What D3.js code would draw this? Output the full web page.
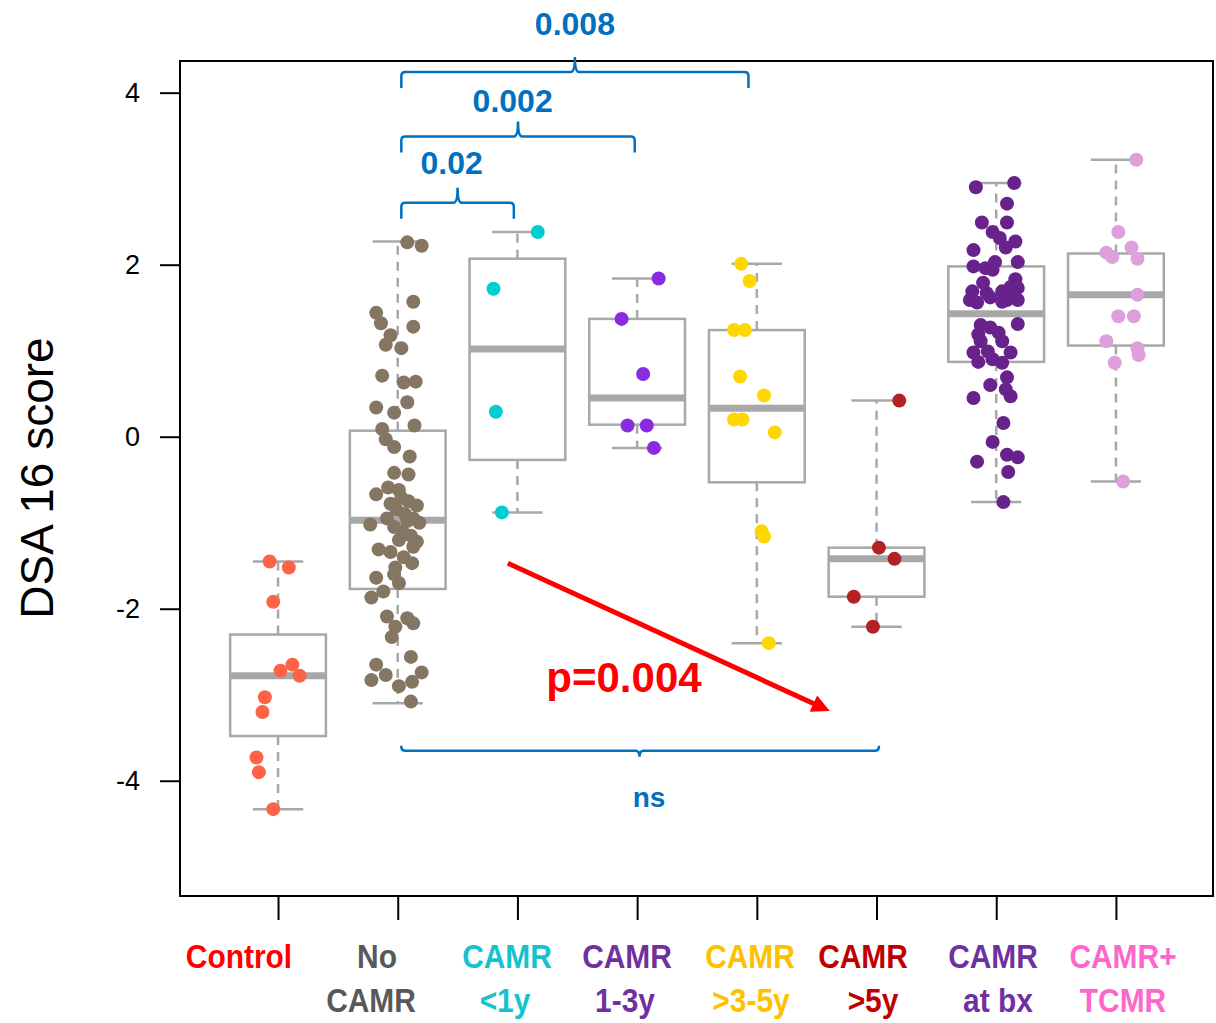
<!DOCTYPE html>
<html>
<head>
<meta charset="utf-8">
<script src="https://cdn.jsdelivr.net/npm/d3@7"></script>
<style>
  body { margin: 0; background: #ffffff; }
  svg { display: block; }
</style>
</head>
<body>
<svg id="chart" width="1216" height="1023"></svg>
<script>
// groups, in plotting order
const categories = ["Control", "No CAMR", "CAMR <1y", "CAMR 1-3y", "CAMR >3-5y", "CAMR >5y", "CAMR at bx", "CAMR+ TCMR"];
const labelTop    = ["Control", "No", "CAMR", "CAMR", "CAMR", "CAMR", "CAMR", "CAMR+"];
const labelBottom = ["", "CAMR", "<1y", "1-3y", ">3-5y", ">5y", "at bx", "TCMR"];
const labelColors = ["#ff0000", "#595959", "#15c3cf", "#7030a0", "#ffc000", "#c00000", "#7030a0", "#ff66cc"];
const pointColors = ["#ff6347", "#857664", "#00ced1", "#8a2be2", "#ffd700", "#b22222", "#68228b", "#dda0dd"];

// box statistics
const whiskerLow  = [-4.33, -3.10, -0.88, -0.13, -2.40, -2.21, -0.76, -0.52];
const q1Values    = [-3.48, -1.77, -0.27,  0.14, -0.53, -1.86,  0.87,  1.06];
const medians     = [-2.78, -0.97,  1.02,  0.45,  0.33, -1.42,  1.43,  1.65];
const q3Values    = [-2.30,  0.07,  2.07,  1.37,  1.24, -1.29,  1.98,  2.13];
const whiskerHigh = [-1.45,  2.27,  2.38,  1.84,  2.01,  0.42,  2.95,  3.22];

// individual scores (with the strip-chart jitter, in category units)
const controlScores = [-1.45, -1.52, -1.92, -2.72, -2.65, -2.78, -3.03, -3.20, -3.73, -3.90, -4.33];
const controlJitter = [-0.07, 0.09, -0.04, 0.02, 0.12, 0.18, -0.11, -0.13, -0.18, -0.16, -0.04];

const noCamrScores = [2.26, 2.22, 1.57, 1.44, 1.32, 1.28, 1.18, 1.07, 1.03, 0.71, 0.63, 0.64, 0.34, 0.28, 0.40,
  0.13, 0.09, -0.03, -0.12, -0.23, -0.42, -0.44, -0.67, -0.59, -0.71, -1.02, -0.62, -0.75, -0.80, -0.85,
  -0.90, -0.95, -1.00, -1.05, -1.10, -1.15, -1.20, -1.22, -0.98, -1.31, -1.34, -1.28, -1.47, -1.52, -1.64,
  -1.70, -1.87, -1.80, -2.09, -2.11, -2.21, -2.17, -2.33, -2.56, -2.65, -2.77, -2.83, -2.90, -2.85, -2.74,
  -3.08, -1.60, -1.40, -0.95, -0.78];
const noCamrJitter = [0.08, 0.20, 0.13, -0.18, -0.14, 0.13, -0.06, -0.10, 0.03, -0.13, 0.05, 0.15, -0.18, -0.03, 0.08,
  0.14, -0.13, -0.10, -0.03, 0.10, -0.03, 0.09, -0.18, -0.08, 0.03, -0.23, 0.01, 0.09, 0.16, -0.01,
  0.06, 0.13, 0.18, -0.03, 0.04, 0.11, 0.01, 0.16, 0.08, -0.16, -0.06, 0.13, 0.12, -0.02, -0.18,
  0.01, -0.22, -0.12, -0.09, 0.08, -0.02, 0.13, -0.05, 0.11, -0.18, -0.10, -0.22, 0.01, 0.12, 0.20,
  0.11, -0.03, 0.05, -0.09, -0.06];

const camrLt1Scores = [2.38, 1.72, 0.29, -0.88];
const camrLt1Jitter = [0.17, -0.20, -0.18, -0.13];

const camr13Scores = [1.84, 1.37, 0.73, 0.13, 0.13, -0.13];
const camr13Jitter = [0.18, -0.13, 0.05, -0.08, 0.08, 0.14];

const camr35Scores = [2.01, 1.81, 1.24, 1.24, 0.70, 0.48, 0.20, 0.20, 0.05, -1.10, -1.16, -2.40];
const camr35Jitter = [-0.13, -0.06, -0.19, -0.10, -0.14, 0.06, -0.19, -0.12, 0.15, 0.04, 0.06, 0.10];

const camrGt5Scores = [0.42, -1.29, -1.42, -1.86, -2.21];
const camrGt5Jitter = [0.19, 0.02, 0.15, -0.19, -0.03];

const camrBxScores = [2.90, 2.95, 2.71, 2.49, 2.49, 2.38, 2.31, 2.27, 2.20, 2.17, 2.03, 2.03, 1.98, 1.96, 1.94,
  1.83, 1.79, 1.74, 1.73, 1.69, 1.67, 1.69, 1.65, 1.59, 1.62, 1.59, 1.59, 1.56, 1.57, 1.31,
  1.30, 1.27, 1.21, 1.19, 1.11, 1.11, 0.98, 0.99, 0.98, 0.87, 0.90, 0.86, 0.69, 0.60, 0.45,
  0.47, 0.55, 0.16, -0.06, -0.29, -0.21, -0.24, -0.41, -0.76];
const camrBxJitter = [-0.17, 0.15, 0.09, -0.12, 0.09, -0.03, 0.03, 0.16, 0.08, -0.19, 0.18, -0.01, -0.19, -0.09, -0.03,
  0.16, -0.11, 0.12, 0.18, -0.20, -0.08, 0.05, 0.14, -0.22, -0.05, 0.09, 0.18, -0.16, 0.05, 0.18,
  -0.13, -0.05, 0.02, -0.15, -0.13, 0.05, -0.19, -0.07, 0.12, -0.15, -0.03, 0.05, 0.09, -0.05, -0.19,
  0.12, 0.08, 0.06, -0.03, -0.16, 0.09, 0.18, 0.10, 0.06];

const camrTcmrScores = [3.22, 2.38, 2.14, 2.09, 2.20, 2.07, 1.65, 1.40, 1.40, 1.11, 1.03, 0.95, 0.86, -0.52];
const camrTcmrJitter = [0.17, 0.02, -0.08, -0.03, 0.13, 0.18, 0.18, 0.02, 0.15, -0.08, 0.18, 0.19, -0.01, 0.06];

const groupScores = [controlScores, noCamrScores, camrLt1Scores, camr13Scores, camr35Scores, camrGt5Scores, camrBxScores, camrTcmrScores];
const groupJitter = [controlJitter, noCamrJitter, camrLt1Jitter, camr13Jitter, camr35Jitter, camrGt5Jitter, camrBxJitter, camrTcmrJitter];

// comparisons drawn above the boxes
const bracketLabels = ["0.02", "0.002", "0.008"];
const bracketFrom   = [2.03, 2.03, 2.03];
const bracketTo     = [2.97, 3.98, 4.93];
const bracketLevel  = [2.72, 3.49, 4.24];
const bracketTextX  = [2.45, 2.96, 3.48];
const bracketTextY  = [3.05, 3.78, 4.67];

const yTicks = [-4, -2, 0, 2, 4];

const drawChart = () => {
  let svg = d3.select("#chart");

  let x = d3.scaleLinear().domain([0.181, 8.811]).range([180, 1213]);
  let y = d3.scaleLinear().domain([-5.34, 4.38]).range([896, 60]);

  const boxGrey = "#a8a8a8";
  const blue = "#0070c0";

  let rows = categories.map((c, i) => ({
    pos: i + 1, lo: whiskerLow[i], q1: q1Values[i], med: medians[i], q3: q3Values[i], hi: whiskerHigh[i]
  }));

  // boxes
  let g = svg.append("g");
  rows.forEach(d => {
    g.append("line")
      .attr("x1", x(d.pos)).attr("x2", x(d.pos))
      .attr("y1", y(d.q3)).attr("y2", y(d.hi))
      .attr("stroke", boxGrey).attr("stroke-width", 2.5).attr("stroke-dasharray", "9,7");
    g.append("line")
      .attr("x1", x(d.pos)).attr("x2", x(d.pos))
      .attr("y1", y(d.q1)).attr("y2", y(d.lo))
      .attr("stroke", boxGrey).attr("stroke-width", 2.5).attr("stroke-dasharray", "9,7");
    [d.lo, d.hi].forEach(v => {
      g.append("line")
        .attr("x1", x(d.pos - 0.21)).attr("x2", x(d.pos + 0.21))
        .attr("y1", y(v)).attr("y2", y(v))
        .attr("stroke", boxGrey).attr("stroke-width", 2.5);
    });
    g.append("rect")
      .attr("x", x(d.pos - 0.4)).attr("width", x(d.pos + 0.4) - x(d.pos - 0.4))
      .attr("y", y(d.q3)).attr("height", y(d.q1) - y(d.q3))
      .attr("fill", "#ffffff").attr("stroke", boxGrey).attr("stroke-width", 2.5);
    g.append("line")
      .attr("x1", x(d.pos - 0.4)).attr("x2", x(d.pos + 0.4))
      .attr("y1", y(d.med)).attr("y2", y(d.med))
      .attr("stroke", boxGrey).attr("stroke-width", 7);
  });

  // points
  groupScores.forEach((scores, i) => {
    svg.append("g").selectAll("circle")
      .data(scores.map((v, k) => ({ pos: i + 1 + groupJitter[i][k], v: v })))
      .enter().append("circle")
      .attr("cx", d => x(d.pos))
      .attr("cy", d => y(d.v))
      .attr("r", 7)
      .attr("fill", pointColors[i]);
  });

  // frame + axes
  svg.append("rect")
    .attr("x", 180).attr("y", 61).attr("width", 1033).attr("height", 835)
    .attr("fill", "none").attr("stroke", "#000").attr("stroke-width", 2);

  let yAxis = svg.append("g")
    .attr("transform", "translate(180,0)")
    .call(d3.axisLeft(y).tickValues(yTicks).tickSize(20).tickPadding(20).tickFormat(d => String(d)));
  yAxis.select(".domain").remove();
  yAxis.selectAll("line").attr("stroke", "#000").attr("stroke-width", 2);
  yAxis.selectAll("text")
    .attr("font-family", "'Liberation Sans', Arial, sans-serif")
    .attr("font-size", 27).attr("fill", "#000");

  let xAxis = svg.append("g")
    .attr("transform", "translate(0,896)")
    .call(d3.axisBottom(x).tickValues(d3.range(1, 9)).tickSize(24).tickFormat(""));
  xAxis.select(".domain").remove();
  xAxis.selectAll("line").attr("stroke", "#000").attr("stroke-width", 2);

  // category labels (condensed, like the original's Calibri)
  const labelX1 = [239, 377, 507, 627, 750, 863, 993, 1123];
  const labelX2 = [239, 371, 505, 625, 751, 873, 998, 1123];
  let labels = svg.append("g")
    .attr("font-family", "'Liberation Sans', Arial, sans-serif")
    .attr("font-weight", "bold").attr("font-size", 34).attr("text-anchor", "middle");
  categories.forEach((c, i) => {
    labels.append("text")
      .attr("transform", "translate(" + labelX1[i] + ",968) scale(0.88,1)")
      .attr("fill", labelColors[i]).text(labelTop[i]);
    labels.append("text")
      .attr("transform", "translate(" + labelX2[i] + ",1012) scale(0.88,1)")
      .attr("fill", labelColors[i]).text(labelBottom[i]);
  });

  svg.append("text")
    .attr("transform", "translate(53,478) rotate(-90)")
    .attr("text-anchor", "middle")
    .attr("font-family", "'Liberation Sans', Arial, sans-serif")
    .attr("font-size", 46).attr("fill", "#000")
    .text("DSA 16 score");

  // significance brackets
  const bracket = (x1, x2, xm, yl, endDy, tipDy) => {
    let r = 4;
    let s = Math.sign(endDy);
    return "M" + x1 + "," + (yl + endDy)
      + "L" + x1 + "," + (yl + s * r)
      + "Q" + x1 + "," + yl + " " + (x1 + r) + "," + yl
      + "L" + (xm - r) + "," + yl
      + "Q" + xm + "," + yl + " " + xm + "," + (yl + tipDy)
      + "Q" + xm + "," + yl + " " + (xm + r) + "," + yl
      + "L" + (x2 - r) + "," + yl
      + "Q" + x2 + "," + yl + " " + x2 + "," + (yl + s * r)
      + "L" + x2 + "," + (yl + endDy);
  };

  let ann = svg.append("g");
  bracketLabels.forEach((lab, i) => {
    let x1 = x(bracketFrom[i]), x2 = x(bracketTo[i]);
    ann.append("path")
      .attr("d", bracket(x1, x2, (x1 + x2) / 2, y(bracketLevel[i]), 16, -15))
      .attr("fill", "none").attr("stroke", blue).attr("stroke-width", 2.5);
    ann.append("text")
      .attr("x", x(bracketTextX[i])).attr("y", y(bracketTextY[i]))
      .attr("text-anchor", "middle")
      .attr("font-family", "'Liberation Sans', Arial, sans-serif")
      .attr("font-weight", "bold").attr("font-size", 32).attr("fill", blue)
      .text(lab);
  });

  let nsFrom = x(2.03), nsTo = x(6.02);
  ann.append("path")
    .attr("d", bracket(nsFrom, nsTo, x(4.02), y(-3.65), -5, 6))
    .attr("fill", "none").attr("stroke", blue).attr("stroke-width", 2.5);
  ann.append("text")
    .attr("x", x(4.1)).attr("y", y(-4.3))
    .attr("text-anchor", "middle")
    .attr("font-family", "'Liberation Sans', Arial, sans-serif")
    .attr("font-weight", "bold").attr("font-size", 28).attr("fill", blue)
    .text("ns");

  // trend arrow
  svg.append("defs").append("marker")
    .attr("id", "head")
    .attr("viewBox", "0 0 10 10")
    .attr("refX", 2).attr("refY", 5)
    .attr("markerWidth", 4.4).attr("markerHeight", 3.6)
    .attr("markerUnits", "strokeWidth")
    .attr("orient", "auto")
    .append("path").attr("d", "M0,0L10,5L0,10Z").attr("fill", "#ff0000");

  ann.append("line")
    .attr("x1", x(2.92)).attr("y1", y(-1.47))
    .attr("x2", x(5.5)).attr("y2", y(-3.12))
    .attr("stroke", "#ff0000").attr("stroke-width", 5)
    .attr("marker-end", "url(#head)");

  ann.append("text")
    .attr("x", x(3.89)).attr("y", y(-2.97))
    .attr("text-anchor", "middle")
    .attr("font-family", "'Liberation Sans', Arial, sans-serif")
    .attr("font-weight", "bold").attr("font-size", 42).attr("fill", "#ff0000")
    .text("p=0.004");
};

drawChart();
</script>
</body>
</html>
